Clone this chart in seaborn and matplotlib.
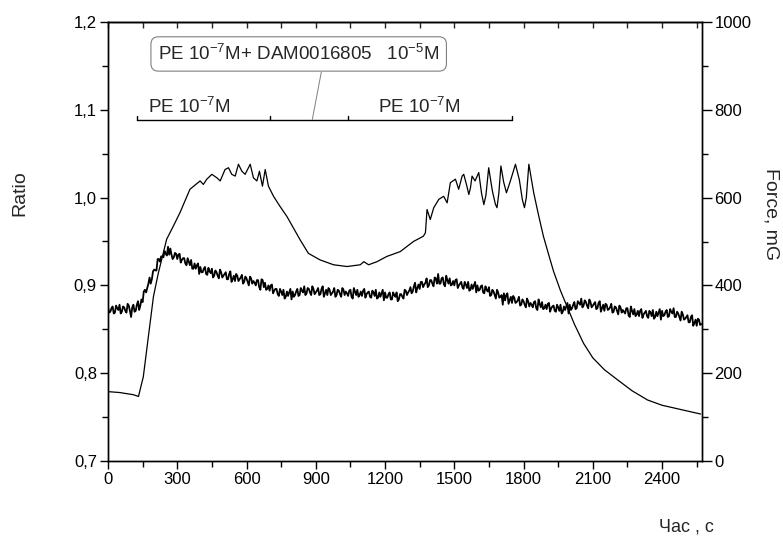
import numpy as np
import pandas as pd
import matplotlib
matplotlib.use("Agg")
import matplotlib.pyplot as plt
from matplotlib.ticker import MultipleLocator, FuncFormatter
import seaborn as sns

# ---------------- data ----------------
# Ratio trace read at every 10 s (t = 0, 10, ... 2570 s)
ratio_on_10s = [
    0.875, 0.870, 0.876, 0.869, 0.874, 0.878, 0.870, 0.875, 0.869, 0.877, 0.864, 0.878,
    0.871, 0.882, 0.877, 0.881, 0.895, 0.897, 0.909, 0.907, 0.918, 0.917, 0.930, 0.933,
    0.932, 0.936, 0.944, 0.942, 0.930, 0.937, 0.930,
    0.936, 0.929, 0.931, 0.923, 0.927, 0.929, 0.919, 0.919, 0.925, 0.921,
    0.915, 0.921, 0.912, 0.916, 0.919, 0.911, 0.915,
    0.908, 0.915, 0.911, 0.915, 0.907, 0.916, 0.907, 0.905,
    0.911, 0.907, 0.912, 0.904, 0.908, 0.900, 0.908, 0.905, 0.900, 0.906,
    0.895, 0.906, 0.903, 0.896, 0.894, 0.901, 0.894, 0.896, 0.888, 0.893,
    0.895, 0.887, 0.888, 0.896, 0.893, 0.889, 0.896, 0.889, 0.894, 0.899,
    0.891, 0.896, 0.889, 0.896, 0.892, 0.897, 0.890, 0.899, 0.891, 0.889, 0.895, 0.891,
    0.897, 0.889, 0.894,
    0.887, 0.895, 0.893, 0.888, 0.895, 0.885, 0.893, 0.895, 0.889, 0.888,
    0.896, 0.890, 0.893, 0.886, 0.892, 0.895, 0.886, 0.887, 0.895, 0.892, 0.886, 0.892,
    0.884, 0.889, 0.892, 0.884,
    0.890, 0.885, 0.894, 0.892, 0.898, 0.893, 0.903, 0.897, 0.896,
    0.904, 0.901, 0.908, 0.900, 0.906, 0.899, 0.908, 0.913, 0.902, 0.909,
    0.899, 0.906, 0.908, 0.901, 0.900, 0.907, 0.900, 0.904, 0.896, 0.901,
    0.904, 0.895, 0.896, 0.904, 0.900, 0.895, 0.900, 0.891, 0.895, 0.898,
    0.889, 0.893, 0.885, 0.892, 0.887, 0.878, 0.883, 0.891, 0.883, 0.880,
    0.886, 0.881, 0.887, 0.878, 0.882, 0.875, 0.882, 0.880, 0.875, 0.882,
    0.872, 0.879, 0.881, 0.874, 0.873, 0.880, 0.874, 0.877, 0.870, 0.875,
    0.878, 0.870, 0.872, 0.880, 0.878, 0.874, 0.881, 0.874, 0.880, 0.885,
    0.877, 0.881, 0.874, 0.881, 0.877, 0.881, 0.874, 0.882, 0.874, 0.871,
    0.878, 0.873, 0.879, 0.870, 0.875, 0.867, 0.875, 0.872, 0.868, 0.874,
    0.864, 0.871, 0.873, 0.867, 0.865, 0.873, 0.867, 0.871, 0.863, 0.869,
    0.872, 0.864, 0.865, 0.873, 0.871, 0.866, 0.872, 0.865, 0.870, 0.874,
    0.864, 0.868, 0.860, 0.867, 0.862, 0.866, 0.858, 0.866, 0.857, 0.854, 0.861, 0.856,
]
# Ratio trace read half-way between those samples (t = 5, 15, ... 2565 s)
ratio_between = [
    0.869, 0.874, 0.868, 0.877, 0.872, 0.868, 0.876, 0.871, 0.879, 0.871, 0.875, 0.870,
    0.878, 0.872, 0.884, 0.893, 0.892, 0.902, 0.902, 0.916, 0.917, 0.930, 0.927, 0.933,
    0.939, 0.934, 0.935, 0.935, 0.932, 0.936, 0.935,
    0.926, 0.931, 0.925, 0.931, 0.923, 0.919, 0.925, 0.923, 0.913, 0.915,
    0.919, 0.913, 0.920, 0.914, 0.909, 0.917, 0.911,
    0.918, 0.909, 0.913, 0.907, 0.913, 0.904, 0.911, 0.913,
    0.905, 0.909, 0.902, 0.910, 0.904, 0.910, 0.902, 0.903, 0.906, 0.898,
    0.907, 0.898, 0.895, 0.900, 0.900, 0.891, 0.896, 0.890, 0.896, 0.889,
    0.885, 0.893, 0.892, 0.884, 0.887, 0.893, 0.888, 0.897, 0.892, 0.889,
    0.897, 0.892, 0.899, 0.890, 0.894, 0.889, 0.896, 0.887, 0.895, 0.897, 0.889, 0.893,
    0.887, 0.895, 0.890,
    0.897, 0.889, 0.891, 0.894, 0.887, 0.897, 0.889, 0.887, 0.893, 0.894,
    0.886, 0.892, 0.887, 0.894, 0.888, 0.885, 0.892, 0.891, 0.883, 0.886, 0.890, 0.884,
    0.892, 0.887, 0.882, 0.890,
    0.887, 0.895, 0.889, 0.894, 0.891, 0.899, 0.892, 0.901, 0.904,
    0.898, 0.903, 0.898, 0.906, 0.902, 0.909, 0.902, 0.902, 0.908, 0.901,
    0.911, 0.902, 0.900, 0.905, 0.906, 0.897, 0.902, 0.898, 0.904, 0.897,
    0.894, 0.901, 0.900, 0.892, 0.894, 0.899, 0.892, 0.899, 0.893, 0.888,
    0.895, 0.889, 0.895, 0.886, 0.889, 0.891, 0.889, 0.879, 0.887, 0.888,
    0.880, 0.883, 0.877, 0.884, 0.878, 0.885, 0.876, 0.878, 0.881, 0.874,
    0.884, 0.875, 0.873, 0.878, 0.879, 0.870, 0.876, 0.871, 0.878, 0.871,
    0.868, 0.876, 0.876, 0.868, 0.872, 0.878, 0.873, 0.882, 0.878, 0.875,
    0.883, 0.877, 0.884, 0.875, 0.879, 0.873, 0.880, 0.870, 0.878, 0.879,
    0.872, 0.875, 0.869, 0.876, 0.871, 0.877, 0.869, 0.870, 0.874, 0.866,
    0.876, 0.867, 0.865, 0.871, 0.871, 0.863, 0.869, 0.865, 0.871, 0.865,
    0.862, 0.870, 0.869, 0.861, 0.865, 0.870, 0.864, 0.873, 0.868, 0.864,
    0.870, 0.864, 0.870, 0.861, 0.864, 0.858, 0.864, 0.854, 0.861, 0.862, 0.855,
]
RATIO_STEP_S = 10

force_time = [
    0, 50, 110, 132, 153, 175, 197, 218, 240, 254, 283, 312, 355, 399, 413, 428,
    450, 472, 486, 507, 522, 536, 551, 565, 580, 594, 616, 630, 645, 656, 669, 681,
    695, 717, 745, 775, 832, 868, 919, 977, 1035, 1093, 1108, 1129, 1165, 1208, 1266,
    1323, 1366, 1375, 1382, 1396, 1411, 1433, 1454, 1469, 1483, 1505, 1519, 1534,
    1541, 1555, 1563, 1570, 1577, 1590, 1606, 1618, 1628, 1637, 1649, 1665, 1678,
    1685, 1693, 1702, 1714, 1726, 1743, 1765, 1782, 1795, 1804, 1812, 1823, 1844,
    1865, 1886, 1910, 1930, 1960, 1990, 2020, 2060, 2100, 2150, 2207, 2270, 2337,
    2400, 2450, 2500, 2567,
]
force_mg = [
    158, 156, 151, 147, 192, 284, 375, 428, 475, 505, 535, 566, 619, 638, 630, 642,
    653, 645, 638, 664, 668, 653, 649, 676, 660, 653, 676, 645, 638, 660, 626, 664,
    626, 603, 580, 557, 504, 473, 458, 447, 443, 447, 454, 447, 454, 466, 477,
    500, 512, 520, 573, 550, 577, 596, 603, 588, 634, 642, 619, 649,
    653, 625, 607, 622, 649, 638, 657, 610, 584, 605, 668, 615, 585,
    577, 610, 672, 635, 611, 638, 676, 640, 595, 577, 600, 676, 611,
    560, 512, 468, 432, 388, 350, 312, 268, 235, 208, 185, 160, 139,
    127, 121, 115, 107,
]

x_ticks = [0, 300, 600, 900, 1200, 1500, 1800, 2100, 2400]
bracket_marks = [126, 703, 1041, 1748]   # s
label_texts = [r"PE 10$^{-7}$M", r"PE 10$^{-7}$M"]
box_text = r"PE 10$^{-7}$M+ DAM0016805   10$^{-5}$M"

# ---------------- style ----------------
sns.set_theme(style="ticks")
plt.rcParams["font.family"] = ["Liberation Sans", "DejaVu Sans"]
plt.rcParams["mathtext.fontset"] = "custom"
plt.rcParams["mathtext.rm"] = "Liberation Sans"
plt.rcParams["mathtext.it"] = "Liberation Sans"
plt.rcParams["mathtext.default"] = "regular"
plt.rcParams["axes.linewidth"] = 1.0

W, H = 783, 544
fig = plt.figure(figsize=(W / 100, H / 100), dpi=100)
L, R, T, B = 108, 702, 22, 461
ax = fig.add_axes([L / W, 1 - B / H, (R - L) / W, (B - T) / H])
ax2 = ax.twinx()

n_main = len(ratio_on_10s)
n_mid = len(ratio_between)
df_r = pd.DataFrame({
    "t": np.concatenate([np.arange(n_main) * RATIO_STEP_S,
                         np.arange(n_mid) * RATIO_STEP_S + RATIO_STEP_S / 2]),
    "ratio": ratio_on_10s + ratio_between,
}).sort_values("t")
df_f = pd.DataFrame({"t": force_time, "force": force_mg})
sns.lineplot(data=df_r, x="t", y="ratio", ax=ax, color="black", lw=1.3,
             sort=False, estimator=None)
sns.lineplot(data=df_f, x="t", y="force", ax=ax2, color="black", lw=0.9,
             sort=False, estimator=None)

ax.set_xlim(0, 2573)
ax.set_ylim(0.7, 1.2)
ax2.set_ylim(0, 1000)

for a in (ax, ax2):
    a.set_xlabel("")
    a.set_ylabel("")
    for s in a.spines.values():
        s.set_visible(True)
        s.set_color("black")
        s.set_linewidth(1.0)

comma = FuncFormatter(lambda v, p: f"{v:.1f}".replace(".", ","))
ax.yaxis.set_major_locator(MultipleLocator(0.1))
ax.yaxis.set_minor_locator(MultipleLocator(0.05))
ax.yaxis.set_major_formatter(comma)
ax.set_xticks(x_ticks)
ax.xaxis.set_minor_locator(MultipleLocator(150))
ax2.yaxis.set_major_locator(MultipleLocator(200))
ax2.yaxis.set_minor_locator(MultipleLocator(100))

ax.tick_params(axis="both", which="major", direction="out", length=6, width=1,
               labelsize=12, colors="black", pad=2)
ax.tick_params(axis="both", which="minor", direction="out", length=4, width=1,
               colors="black")
ax2.tick_params(axis="y", which="major", direction="out", length=7, width=1,
                labelsize=12, colors="black", pad=2)
ax2.tick_params(axis="y", which="minor", direction="out", length=4, width=1,
                colors="black")

top = ax.secondary_xaxis("top")
top.set_xticks(x_ticks)
top.xaxis.set_minor_locator(MultipleLocator(150))
top.tick_params(which="both", direction="in", length=4, width=1, labeltop=False)
top.set_xticklabels([])

# ---------------- annotations ----------------
y_line = 1.0889
y_tick = 1.0934
ax.plot([bracket_marks[0], bracket_marks[-1]], [y_line, y_line], color="black", lw=1.0)
for m in bracket_marks:
    ax.plot([m, m], [y_line, y_tick], color="black", lw=1.0)
ax.text(173, 1.0958, label_texts[0], fontsize=13.5, ha="left", va="baseline")
ax.text(1169, 1.0958, label_texts[1], fontsize=13.5, ha="left", va="baseline")
ax.plot([924, 885], [1.1430, y_line], color="gray", lw=0.7)
ax.text(826, 1.1636, box_text, fontsize=13.5, ha="center", va="center",
        bbox=dict(boxstyle="round,pad=0.38,rounding_size=0.4", fc="white",
                  ec="gray", lw=0.8))

fig.text(20 / W, 1 - 193 / H, "Ratio", rotation=90, ha="center", va="center",
         fontsize=14)
fig.text(771 / W, 1 - 214 / H, "Force, mG", rotation=270, ha="center",
         va="center", fontsize=14)
fig.text(686 / W, 1 - 527 / H, "Час , с", ha="center", va="center", fontsize=13)

fig.savefig("out.png", dpi=100, facecolor="white")
